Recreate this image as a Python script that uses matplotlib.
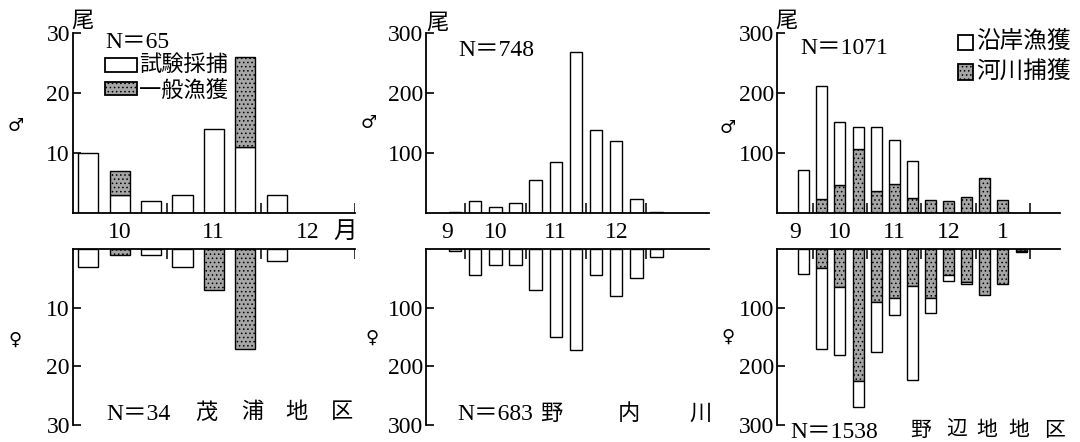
import matplotlib
matplotlib.use('Agg')
import matplotlib.pyplot as plt
import numpy as np
from matplotlib.patches import Rectangle
from matplotlib.transforms import blended_transform_factory

plt.rcParams['hatch.linewidth'] = 0.6
plt.rcParams['font.family'] = ['Liberation Serif', 'Noto Sans CJK JP', 'DejaVu Sans']

W, H = 1080, 442
JP = ['Noto Sans CJK JP', 'DejaVu Sans']
NUM = ['Liberation Serif', 'Noto Sans CJK JP']
GRAY = '#a6a6a6'

# --- 茂浦地区 (旬別, 9 slots) ---
p1_m_test = [10, 3, 2, 3, 14, 11, 3, 0, 0]
p1_m_gen = [0, 4, 0, 0, 0, 15, 0, 0, 0]
p1_f_test = [3, 0, 1, 3, 0, 0, 2, 0, 0]
p1_f_gen = [0, 1, 0, 0, 7, 17, 0, 0, 0]
p1_month_pos = [1, 4, 7, 8.2]
p1_month_lab = ['10', '11', '12', '月']
p1_bounds = [2.5, 5.5, 8.5]

# --- 野内川 ---
p2_m = [2, 20, 10, 17, 55, 85, 268, 138, 120, 23, 2]
p2_f = [3, 44, 28, 27, 70, 150, 173, 45, 80, 50, 13]
p2_month_pos = [-0.4, 2, 5, 8]
p2_month_lab = ['9', '10', '11', '12']
p2_bounds = [0.5, 3.5, 6.5, 9.5]

# --- 野辺地地区 ---
p3_m_coast = [71, 188, 106, 36, 106, 73, 62, 0, 0, 0, 0, 0, 0]
p3_m_river = [0, 24, 46, 107, 37, 49, 25, 21, 20, 27, 59, 22, 0]
p3_f_coast = [43, 138, 116, 44, 85, 29, 160, 26, 10, 3, 0, 0, 2]
p3_f_river = [0, 33, 65, 225, 90, 84, 63, 83, 44, 57, 78, 60, 3]
p3_month_pos = [-0.5, 2, 5, 8, 11]
p3_month_lab = ['9', '10', '11', '12', '1']
p3_bounds = [0.5, 3.5, 6.5, 9.5, 12.5]

fig = plt.figure(figsize=(W / 100, H / 100), dpi=100)


def px(x, y):
    return x / W, 1 - y / H


def ftext(x, y, s, **kw):
    kw.setdefault('va', 'center')
    fig.text(*px(x, y), s, **kw)


def make_axes(left, width, xlim, ymax, ticks):
    top = fig.add_axes([left / W, 1 - 213 / H, width / W, 180 / H])
    bot = fig.add_axes([left / W, 1 - 425 / H, width / W, 176 / H])
    top.set_ylim(0, ymax)
    bot.set_ylim(ymax, 0)
    for ax in (top, bot):
        ax.set_xlim(*xlim)
        ax.set_xticks([])
        ax.set_yticks(ticks)
        ax.set_yticklabels([str(t) for t in ticks], family=NUM, fontsize=17)
        ax.tick_params(axis='y', direction='in', length=6, width=1.2, pad=2)
        ax.patch.set_alpha(0)
        for s in ax.spines.values():
            s.set_linewidth(1.3)
    top.spines[['top', 'right']].set_visible(False)
    bot.spines[['bottom', 'right']].set_visible(False)
    return top, bot


def stack(ax, first, second, c1, c2, width):
    first = np.array(first, float)
    second = np.array(second, float)
    x = np.arange(len(first))
    m = first > 0
    ax.bar(x[m], first[m], width=width, color=c1, edgecolor='black', lw=1,
           hatch='....' if c1 == GRAY else None)
    m = second > 0
    ax.bar(x[m], second[m], bottom=first[m], width=width, color=c2,
           edgecolor='black', lw=1, hatch='....' if c2 == GRAY else None)


def marks(top, bot, bounds):
    for ax, y0, y1 in ((top, 0, 0.055), (bot, 1, 0.945)):
        tr = ax.get_xaxis_transform()
        ax.vlines(bounds, y0, y1, transform=tr, color='black', lw=1.1)


def months(ax, pos, labs, y):
    tr = blended_transform_factory(ax.transData, fig.transFigure)
    for p, l in zip(pos, labs):
        ax.text(p, 1 - y / H, l, transform=tr, ha='center', va='center',
                fontsize=17, family=NUM)


# panel 1
t1, b1 = make_axes(72.7, 282.3, (-0.5, 8.5), 30, [10, 20, 30])
stack(t1, p1_m_test, p1_m_gen, 'white', GRAY, 0.64)
stack(b1, p1_f_test, p1_f_gen, 'white', GRAY, 0.64)
marks(t1, b1, p1_bounds)
months(t1, p1_month_pos, p1_month_lab, 232)

# panel 2
t2, b2 = make_axes(425.7, 283.3, (-1.45, 12.6), 300, [100, 200, 300])
stack(t2, p2_m, [0] * len(p2_m), 'white', 'white', 0.62)
stack(b2, p2_f, [0] * len(p2_f), 'white', 'white', 0.62)
marks(t2, b2, p2_bounds)
months(t2, p2_month_pos, p2_month_lab, 233)

# panel 3
t3, b3 = make_axes(777.3, 282.7, (-1.46, 14.15), 300, [100, 200, 300])
stack(t3, p3_m_river, p3_m_coast, GRAY, 'white', 0.61)
stack(b3, p3_f_river, p3_f_coast, GRAY, 'white', 0.61)
marks(t3, b3, p3_bounds)
months(t3, p3_month_pos, p3_month_lab, 233)

# unit and sex marks
for x, y in ((82, 20), (437, 22), (786, 20)):
    ftext(x, y, '尾', ha='center', fontsize=16, family=JP)
for x, y in ((16, 126), (369, 123), (728, 128)):
    ftext(x, y, '♂', ha='center', fontsize=13, family=['DejaVu Sans'])
for x, y in ((15, 340), (372, 338), (728, 337)):
    ftext(x, y, '♀', ha='center', fontsize=13, family=['DejaVu Sans'])

# legends
def box(x0, y0, x1, y1, fc):
    fig.add_artist(Rectangle(px(x0, y1), (x1 - x0) / W, (y1 - y0) / H,
                             transform=fig.transFigure, facecolor=fc,
                             edgecolor='black', lw=1.3,
                             hatch='....' if fc == GRAY else None))

ftext(105, 43, 'N＝65', ha='left', fontsize=17, family=NUM)
box(105, 58, 137, 72, 'white')
ftext(139, 64, '試験採捕', ha='left', fontsize=16, family=JP)
box(105, 82, 137, 95, GRAY)
ftext(139, 90, '一般漁獲', ha='left', fontsize=16, family=JP)

ftext(458, 50, 'N＝748', ha='left', fontsize=17, family=NUM)

ftext(800, 49, 'N＝1071', ha='left', fontsize=17, family=NUM)
box(958, 35, 973, 50, 'white')
ftext(976, 41, '沿岸漁獲', ha='left', fontsize=17, family=JP)
box(958, 64, 973, 80, GRAY)
ftext(976, 71, '河川捕獲', ha='left', fontsize=17, family=JP)

# area names
ftext(106, 414, 'N＝34', ha='left', fontsize=17, family=NUM)
for x, c in zip([206, 252, 296, 342], '茂浦地区'):
    ftext(x, 412, c, ha='center', fontsize=16, family=JP)
ftext(457, 415, 'N＝683', ha='left', fontsize=17, family=NUM)
for x, c in zip([551, 629, 700], '野内川'):
    ftext(x, 413, c, ha='center', fontsize=16, family=JP)
ftext(790, 432, 'N＝1538', ha='left', fontsize=17, family=NUM)
for x, c in zip([921, 957, 987, 1019, 1055], '野辺地地区'):
    ftext(x, 430, c, ha='center', fontsize=15, family=JP)

fig.savefig('out.png', dpi=100)
